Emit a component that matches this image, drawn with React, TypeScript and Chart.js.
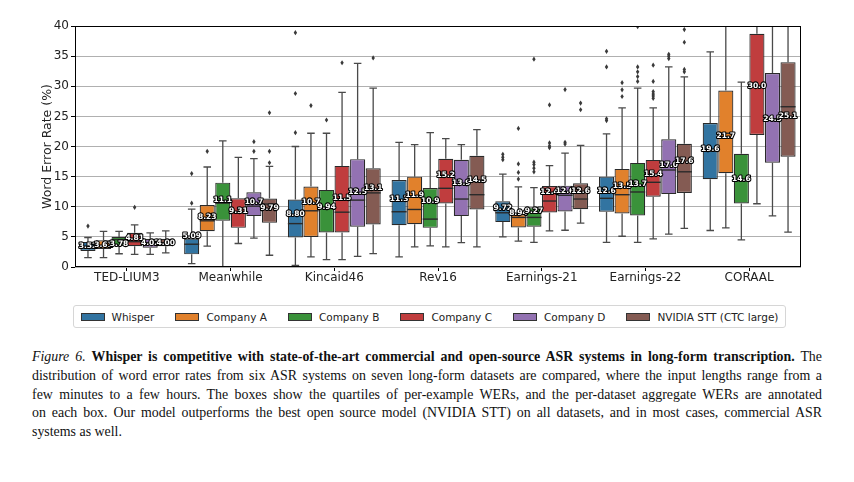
import React, { useEffect, useRef } from "react";
import { Chart, registerables } from "chart.js";

Chart.register(...registerables);

const categories = ["TED-LIUM3", "Meanwhile", "Kincaid46", "Rev16", "Earnings-21", "Earnings-22", "CORAAL"];
const seriesNames = ["Whisper", "Company A", "Company B", "Company C", "Company D", "NVIDIA STT (CTC large)"];
const seriesColors = ["#3274A1", "#E1812C", "#3A923A", "#C03D3E", "#9372B2", "#845B53"];
const yTickValues = [0, 5, 10, 15, 20, 25, 30, 35, 40];
const yAxisTitle = "Word Error Rate (%)";

// [whisker low, Q1, median, Q3, whisker high] per dataset
const whisperStats = [[1.56, 2.67, 3.17, 4.17, 4.9], [0.56, 2.1, 3.78, 4.72, 9.6], [0.28, 4.9, 7.2, 11.2, 20.0], [1.67, 6.95, 9.17, 14.45, 20.67], [5.0, 7.45, 9.0, 10.9, 15.4], [4.1, 9.17, 11.4, 15.0, 22.1], [6.06, 14.56, 19.2, 23.9, 35.7]];
const companyAStats = [[1.56, 3.0, 3.45, 4.45, 5.9], [3.45, 5.95, 7.67, 10.28, 16.6], [1.67, 5.0, 9.33, 13.35, 22.2], [3.33, 7.1, 9.55, 15.0, 20.3], [4.28, 6.56, 8.23, 8.73, 13.3], [5.1, 8.89, 12.0, 16.28, 26.4], [6.5, 15.56, 22.2, 29.3, 45]];
const companyBStats = [[2.2, 3.45, 4.55, 5.0, 5.9], [0, 7.67, 10.6, 14.0, 20.95], [1.23, 5.73, 9.7, 12.8, 22.2], [3.5, 6.5, 7.95, 13.1, 22.3], [4.1, 6.67, 8.23, 9.9, 13.17], [4.1, 8.56, 12.45, 17.28, 29.7], [4.5, 10.56, 14.3, 18.8, 30.7]];
const companyCStats = [[2.1, 3.45, 4.2, 5.67, 7.0], [3.9, 6.5, 9.0, 11.4, 18.2], [1.23, 5.73, 9.1, 16.78, 29.0], [3.33, 10.56, 13.06, 17.95, 21.3], [6.0, 9.06, 10.95, 13.45, 16.83], [4.67, 11.67, 14.06, 17.78, 26.4], [10.5, 21.9, 30.0, 38.7, 48]];
const companyDStats = [[2.1, 3.2, 4.0, 4.7, 5.67], [4.78, 8.45, 10.1, 12.4, 18.0], [1.78, 6.67, 11.1, 17.9, 33.8], [4.06, 8.45, 11.28, 17.8, 20.3], [6.1, 9.22, 11.9, 13.5, 18.9], [5.45, 12.1, 16.1, 21.2, 33.2], [8.5, 17.3, 24.6, 32.2, 47]];
const nvidiaStats = [[2.33, 3.45, 4.0, 4.7, 6.0], [1.95, 7.33, 10.45, 11.35, 16.7], [2.22, 7.06, 12.3, 16.4, 29.7], [3.33, 9.56, 12.0, 18.45, 22.8], [7.28, 9.6, 11.28, 13.9, 20.2], [6.4, 12.3, 15.8, 20.45, 31.56], [5.8, 18.3, 26.6, 34.0, 50]];

// outlier points per dataset
const whisperOutliers = [[6.8], [10.6, 15.5], [22.3, 28.8, 38.9], [], [17.8, 18.2, 18.7], [24.3, 24.6, 33.2, 35.8], []];
const companyAOutliers = [[], [19.2], [26.8], [], [14.6, 15.7, 17.1, 23.0], [28.3, 29.4, 30.6], []];
const companyBOutliers = [[], [], [24.4], [], [15.8, 16.4, 17.0, 17.4, 34.5], [30.8, 31.6, 32.4, 33.2, 39.9], []];
const companyCOutliers = [[9.9], [], [33.9], [], [19.8, 20.1, 20.6, 26.9], [28.0, 28.4, 28.7, 29.1, 30.8, 33.5], []];
const companyDOutliers = [[], [19.2, 20.8], [], [], [20.4, 20.7, 29.45], [34.6, 35.0, 35.3], []];
const nvidiaOutliers = [[], [17.3, 19.2, 25.6], [34.7], [], [26.1, 27.2], [32.4, 32.8, 37.3, 39.4], []];

// aggregate WER labels per dataset
const whisperWER = ["3.52", "5.09", "8.80", "11.3", "9.72", "12.6", "19.6"];
const companyAWER = ["3.61", "8.23", "10.7", "11.9", "8.94", "13.5", "21.7"];
const companyBWER = ["3.78", "11.1", "9.94", "10.9", "9.27", "13.7", "14.6"];
const companyCWER = ["4.81", "9.31", "11.5", "15.2", "12.4", "15.4", "30.0"];
const companyDWER = ["4.02", "10.7", "12.5", "13.9", "12.6", "17.0", "24.5"];
const nvidiaWER = ["4.00", "9.79", "13.1", "14.5", "12.6", "17.6", "25.1"];

const allStats = [whisperStats, companyAStats, companyBStats, companyCStats, companyDStats, nvidiaStats];
const allOutliers = [whisperOutliers, companyAOutliers, companyBOutliers, companyCOutliers, companyDOutliers, nvidiaOutliers];
const allWER = [whisperWER, companyAWER, companyBWER, companyCWER, companyDWER, nvidiaWER];

const EDGE = "#2a2a2a";
const WHISKER = "#4a4a4a";

const boxExtras = {
  id: "boxExtras",
  afterDatasetsDraw(chart: any) {
    const ctx = chart.ctx;
    const ys = chart.scales.y;
    const area = chart.chartArea;
    ctx.save();
    ctx.beginPath();
    ctx.rect(area.left, area.top, area.right - area.left, area.bottom - area.top);
    ctx.clip();
    chart.data.datasets.forEach((ds: any, i: number) => {
      const meta = chart.getDatasetMeta(i);
      meta.data.forEach((bar: any, j: number) => {
        const [lo, q1, med, q3, hi] = ds.stats[j];
        const x = bar.x;
        const w = bar.width;
        ctx.strokeStyle = WHISKER;
        ctx.lineWidth = 1.3;
        ctx.beginPath();
        ctx.moveTo(x, ys.getPixelForValue(q3));
        ctx.lineTo(x, ys.getPixelForValue(hi));
        ctx.moveTo(x, ys.getPixelForValue(q1));
        ctx.lineTo(x, ys.getPixelForValue(lo));
        ctx.moveTo(x - w / 4, ys.getPixelForValue(hi));
        ctx.lineTo(x + w / 4, ys.getPixelForValue(hi));
        ctx.moveTo(x - w / 4, ys.getPixelForValue(lo));
        ctx.lineTo(x + w / 4, ys.getPixelForValue(lo));
        ctx.stroke();
        ctx.strokeStyle = EDGE;
        ctx.lineWidth = 1.4;
        ctx.beginPath();
        ctx.moveTo(x - w / 2, ys.getPixelForValue(med));
        ctx.lineTo(x + w / 2, ys.getPixelForValue(med));
        ctx.stroke();
        ctx.fillStyle = "#3a3a3a";
        (ds.outliers[j] || []).forEach((v: number) => {
          const py = ys.getPixelForValue(v);
          ctx.beginPath();
          ctx.moveTo(x, py - 2.6);
          ctx.lineTo(x + 1.7, py);
          ctx.lineTo(x, py + 2.6);
          ctx.lineTo(x - 1.7, py);
          ctx.closePath();
          ctx.fill();
        });
      });
    });
    ctx.restore();

    // frame
    ctx.save();
    ctx.strokeStyle = "#000";
    ctx.lineWidth = 1;
    ctx.strokeRect(Math.round(area.left) + 0.5, Math.round(area.top) + 0.5, Math.round(area.right - area.left) - 1, Math.round(area.bottom - area.top) - 1);
    ctx.restore();

    // y axis title
    ctx.save();
    ctx.font = "12.5px 'DejaVu Sans'";
    ctx.fillStyle = "#222";
    ctx.textAlign = "center";
    ctx.textBaseline = "middle";
    ctx.translate(ys.left + 12, (area.top + area.bottom) / 2);
    ctx.rotate(-Math.PI / 2);
    ctx.fillText(yAxisTitle, 0, 0);
    ctx.restore();

    // aggregate labels
    ctx.save();
    ctx.font = "bold 7.5px 'DejaVu Sans'";
    ctx.textAlign = "center";
    ctx.textBaseline = "middle";
    ctx.lineJoin = "round";
    chart.data.datasets.forEach((ds: any, i: number) => {
      const meta = chart.getDatasetMeta(i);
      meta.data.forEach((bar: any, j: number) => {
        const label = ds.wer[j];
        const py = ys.getPixelForValue(parseFloat(label));
        ctx.strokeStyle = "#000";
        ctx.lineWidth = 2.2;
        ctx.strokeText(label, bar.x, py);
        ctx.fillStyle = "#fff";
        ctx.fillText(label, bar.x, py);
      });
    });
    ctx.restore();
  },
};

const captionLines: React.ReactNode[] = [
  <><i>Figure 6.</i> <b>Whisper is competitive with state-of-the-art commercial and open-source ASR systems in long-form transcription.</b> The</>,
  <>distribution of word error rates from six ASR systems on seven long-form datasets are compared, where the input lengths range from a</>,
  <>few minutes to a few hours. The boxes show the quartiles of per-example WERs, and the per-dataset aggregate WERs are annotated</>,
  <>on each box. Our model outperforms the best open source model (NVIDIA STT) on all datasets, and in most cases, commercial ASR</>,
  <>systems as well.</>,
];

export default function App() {
  const canvasRef = useRef<HTMLCanvasElement | null>(null);

  useEffect(() => {
    if (!canvasRef.current) return;
    const datasets = seriesNames.map((name, i) => ({
      label: name,
      data: allStats[i].map((s) => [s[1], s[3]]),
      stats: allStats[i],
      outliers: allOutliers[i],
      wer: allWER[i],
      backgroundColor: seriesColors[i],
      borderColor: EDGE,
      borderWidth: 1.2,
      borderSkipped: false,
      categoryPercentage: 0.9,
      barPercentage: 0.97,
    }));
    const chart = new Chart(canvasRef.current, {
      type: "bar",
      data: { labels: categories, datasets: datasets as any },
      options: {
        animation: false,
        responsive: false,
        maintainAspectRatio: false,
        layout: { padding: { left: 36, right: 53, top: 26, bottom: 13 } },
        plugins: { legend: { display: false }, tooltip: { enabled: false } },
        scales: {
          x: {
            grid: { display: true, drawOnChartArea: false, offset: false, tickLength: 4, tickColor: "#000" },
            border: { display: false },
            ticks: { color: "#222", font: { family: "'DejaVu Sans'", size: 12 }, padding: 0 },
            afterFit: (axis: any) => { axis.height = 20; },
          },
          y: {
            min: 0,
            max: 40,
            afterBuildTicks: (axis: any) => { axis.ticks = yTickValues.map((v) => ({ value: v })); },
            grid: { color: "#b0b0b0", lineWidth: 1, tickLength: 4, tickColor: "#000" },
            border: { display: false },
            ticks: { color: "#222", font: { family: "'DejaVu Sans'", size: 12 }, padding: 2 },
            title: { display: false },
            afterFit: (axis: any) => { axis.width = 39; },
          },
        },
      },
      plugins: [boxExtras],
    });
    return () => chart.destroy();
  }, []);

  return (
    <div style={{ position: "absolute", left: 0, top: 0, width: 854, height: 482, background: "#fff" }}>
      <canvas ref={canvasRef} width={854} height={300} style={{ position: "absolute", left: 0, top: 0, width: 854, height: 300 }} />
      <div
        style={{
          position: "absolute", left: 73, top: 305, width: 713, height: 23, boxSizing: "border-box",
          border: "1px solid #d6d6d6", borderRadius: 3, display: "flex", alignItems: "center", justifyContent: "center",
          gap: 21, fontFamily: "'DejaVu Sans'", fontSize: 10.5, color: "#222",
        }}
      >
        {seriesNames.map((name, i) => (
          <div key={name} style={{ display: "flex", alignItems: "center", gap: 7 }}>
            <span style={{ display: "inline-block", width: 24, height: 8, background: seriesColors[i], border: "1px solid #333", boxSizing: "border-box" }} />
            <span>{name}</span>
          </div>
        ))}
      </div>
      <div
        style={{
          position: "absolute", left: 32, top: 348, width: 790, fontFamily: "'Liberation Serif'", fontSize: 13.9,
          lineHeight: "18.75px", color: "#111",
        }}
      >
        {captionLines.map((line, k) => (
          <div
            key={k}
            style={{ whiteSpace: "nowrap", textAlign: k < captionLines.length - 1 ? "justify" : "left", textAlignLast: k < captionLines.length - 1 ? "justify" : "left" } as any}
          >
            {line}
          </div>
        ))}
      </div>
    </div>
  );
}
